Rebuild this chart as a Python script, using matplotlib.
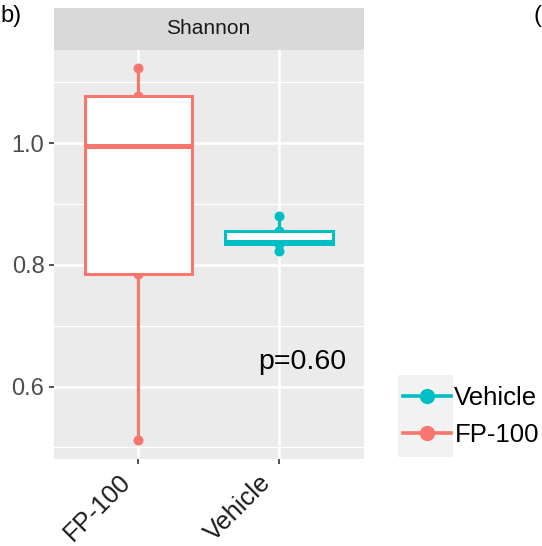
import matplotlib
matplotlib.use("Agg")
import matplotlib.pyplot as plt
import numpy as np
from matplotlib.lines import Line2D
from matplotlib.patches import Rectangle
import matplotlib.transforms as mtransforms

plt.rcParams['font.family'] = ['Liberation Sans', 'DejaVu Sans']

groups = ["FP-100", "Vehicle"]
fp100 = [0.512, 0.785, 0.996, 1.078, 1.123]
vehicle = [0.822, 0.835, 0.838, 0.856, 0.880]
colors = ["#F8766D", "#00BFC4"]
yticks = [0.6, 0.8, 1.0]
yminor = [0.5, 0.7, 0.9, 1.1]
facet_title = "Shannon"
p_label = "p=0.60"

W, H = 542, 546
fig = plt.figure(figsize=(W / 100, H / 100), dpi=100)

left, right, top, bottom = 53.5, 363.6, 50, 459
ax = fig.add_axes([left / W, 1 - bottom / H, (right - left) / W, (bottom - top) / H])
ax.set_facecolor("#EBEBEB")
for s in ax.spines.values():
    s.set_visible(False)

positions = [1, 2]
data = [fp100, vehicle]

for y in yticks:
    ax.axhline(y, color="white", lw=1.8, zorder=0)
for y in yminor:
    ax.axhline(y, color="white", lw=0.9, zorder=0)
for x in positions:
    ax.axvline(x, color="white", lw=1.8, zorder=0)

for pos, vals, c in zip(positions, data, colors):
    ax.plot([pos] * len(vals), vals, color=c, lw=2.2, zorder=1, solid_capstyle="butt")
    ax.plot([pos] * len(vals), vals, 'o', color=c, ms=7.2, zorder=2, mec='none')

bp = ax.boxplot(data, positions=positions, widths=0.76, whis=1.5, patch_artist=True,
                showcaps=False, showfliers=False, manage_ticks=False)
for i, c in enumerate(colors):
    box = bp['boxes'][i]
    box.set_facecolor("white")
    box.set_edgecolor(c)
    box.set_linewidth(2.2)
    box.set_zorder(3)
    med = bp['medians'][i]
    med.set_color(c)
    med.set_linewidth(3.6)
    med.set_zorder(4)
for i, w in enumerate(bp['whiskers']):
    w.set_color(colors[i // 2])
    w.set_linewidth(2.2)
    w.set_zorder(1)

ax.set_xlim(0.4, 2.6)
ax.set_ylim(0.481, 1.153)
ax.set_yticks(yticks)
ax.set_yticklabels([f"{v:.1f}" for v in yticks], color="#4D4D4D", fontsize=17)
ax.set_xticks(positions)
ax.set_xticklabels(groups, rotation=45, ha="right", va="top", fontsize=18.3,
                   rotation_mode="anchor", color="#1A1A1A")
ax.tick_params(axis="both", length=3.5, width=1.2, color="#333333", pad=3)
offset = mtransforms.ScaledTranslation(-20 / 100, -2 / 100, fig.dpi_scale_trans)
for lab in ax.get_xticklabels():
    lab.set_transform(lab.get_transform() + offset)

ax.text(2.48, 0.641, p_label, ha="right", va="center",
        fontsize=20.5, color="black", zorder=5)

# strip
strip = fig.add_axes([left / W, 1 - top / H, (right - left) / W, 42 / H])
strip.set_facecolor("#D9D9D9")
strip.set_xticks([])
strip.set_yticks([])
for s in strip.spines.values():
    s.set_visible(False)
strip.text(0.5, 0.5, facet_title, ha="center", va="center", fontsize=15, color="#1A1A1A",
           transform=strip.transAxes)

# legend key background
fig.patches.append(Rectangle((398 / W, 1 - 457 / H), 55 / W, 82 / H, transform=fig.transFigure,
                             facecolor="#F2F2F2", edgecolor="none", zorder=0))
handles = [Line2D([0], [0], color=colors[1], lw=2.6, marker='o', ms=11, mec='none'),
           Line2D([0], [0], color=colors[0], lw=2.6, marker='o', ms=11, mec='none')]
fig.legend(handles, [groups[1], groups[0]], loc="center left",
           bbox_to_anchor=(403 / W, 1 - 416.5 / H), frameon=False, fontsize=18.5,
           handlelength=1.85, handletextpad=0.15, labelspacing=0.5, borderpad=0, borderaxespad=0)

fig.text(0.0, 0.99, "b)", ha="left", va="top", fontsize=17)
fig.text(0.984, 0.99, "(", ha="left", va="top", fontsize=17)

fig.savefig("out.png", dpi=100)
